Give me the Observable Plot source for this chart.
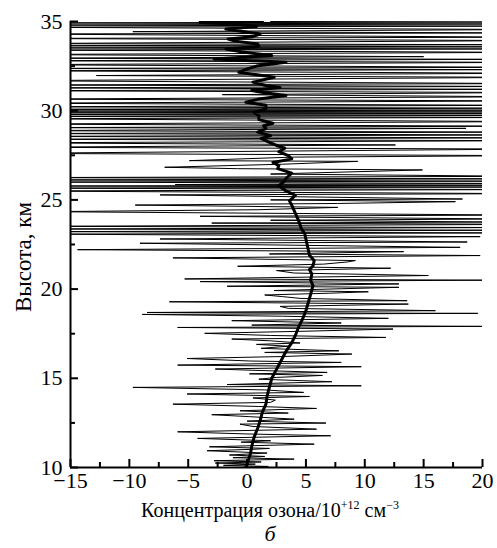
<!DOCTYPE html>
<html>
<head>
<meta charset="utf-8">
<script src="https://cdn.jsdelivr.net/npm/d3@7"></script>
<script src="https://cdn.jsdelivr.net/npm/@observablehq/plot@0.6"></script>
<style>
  html, body { margin: 0; padding: 0; background: #fff; }
  svg text { font-family: "Liberation Serif", "Times New Roman", Tinos, "DejaVu Serif", serif !important; }
</style>
</head>
<body>
<div id="chart"></div>
<script>
// Raw ozone profile: [altitude km, concentration 10^12 cm^-3]
const rawProfile = [
  [10.00,-0.5],[10.06,1.8],[10.12,-2.0],[10.19,0.7],[10.25,-2.7],[10.31,1.2],[10.38,-2.8],[10.47,4.0],
  [10.55,-1.2],[10.62,1.5],[10.70,-1.5],[10.81,1.7],[10.94,-3.4],[11.02,0.5],[11.07,1.9],[11.16,-3.2],
  [11.31,5.7],[11.42,-0.5],[11.50,2.0],[11.63,-4.2],[11.78,7.1],[11.88,0.0],[12.00,-5.9],[12.15,5.9],
  [12.30,0.5],[12.43,-0.6],[12.49,6.7],[12.60,0.0],[12.71,4.0],[12.85,0.2],[12.96,-3.0],[13.05,3.5],
  [13.18,-0.6],[13.31,5.9],[13.42,1.0],[13.55,-6.3],[13.65,2.0],[13.78,2.4],[13.90,0.5],[13.98,5.3],
  [14.12,-5.1],[14.21,4.8],[14.35,1.5],[14.49,-9.7],[14.58,9.7],[14.65,-1.7],[14.81,7.2],[14.95,1.0],
  [15.05,2.5],[15.16,6.4],[15.25,0.2],[15.33,6.8],[15.45,0.5],[15.52,-2.7],[15.65,9.7],[15.74,-5.9],
  [15.89,8.0],[15.97,0.2],[16.11,-5.1],[16.22,3.0],[16.36,8.9],[16.45,1.5],[16.54,7.8],[16.68,1.2],
  [16.80,3.5],[16.90,0.8],[16.98,4.5],[17.10,2.0],[17.20,-1.3],[17.29,11.8],[17.40,2.0],[17.52,-3.6],
  [17.64,5.0],[17.76,12.4],[17.85,-5.9],[17.91,20.5],[17.98,0.4],[18.10,8.0],[18.23,-1.3],[18.36,12.0],
  [18.48,3.0],[18.58,-8.9],[18.64,19.6],[18.69,-8.5],[18.79,16.0],[18.92,3.5],[19.03,2.8],[19.16,13.7],
  [19.22,4.0],[19.29,-6.6],[19.35,13.6],[19.48,4.5],[19.58,3.0],[19.67,1.5],[19.77,7.0],[19.85,10.3],
  [19.92,2.3],[20.02,8.0],[20.10,12.9],[20.16,-1.7],[20.29,12.9],[20.42,-4.0],[20.50,20.5],[20.57,-5.3],
  [20.68,6.0],[20.76,15.4],[20.90,4.0],[21.04,2.5],[21.17,12.2],[21.28,-0.8],[21.40,6.5],[21.52,8.5],
  [21.60,9.2],[21.75,-6.3],[21.88,19.8],[21.97,1.9],[22.10,13.3],[22.21,-14.4],[22.34,18.1],[22.46,4.0],
  [22.57,-9.1],[22.64,18.7],[22.81,-7.4],[22.94,19.8],[23.08,-16.5],[23.15,21],[23.22,-17],[23.30,22],
  [23.37,-17],[23.45,22],[23.52,-18],[23.63,25],[23.70,-3],[23.76,21],[23.86,2.0],[23.93,22],
  [24.08,-4.0],[24.15,23],[24.34,-17],[24.45,1.0],[24.58,7.7],[24.71,-9.5],[24.80,7.7],[24.90,17.7],
  [25.00,2.0],[25.05,18.3],[25.28,-7.4],[25.35,24],[25.50,-20],[25.58,24],[25.66,-20],[25.72,24],
  [25.78,-20],[25.82,24],[25.86,-6.1],[25.92,24],[26.00,-20],[26.05,24],[26.12,-20],[26.18,24],
  [26.25,-20],[26.32,24],[26.45,2.0],[26.68,14.9],[26.75,-0.8],[26.83,-7.0],[27.00,3.0],[27.16,9.4],
  [27.20,-4.9],[27.40,4.0],[27.48,24],[27.61,-20],[27.85,24],[27.95,-20],[28.08,12.6],[28.20,-20],
  [28.32,24],[28.40,-20],[28.48,24],[28.56,-20],[28.64,24],[28.72,-20],[28.80,24],[28.88,-20],
  [29.01,18.6],[29.05,-20],[29.13,24],[29.25,-20],[29.39,24],[29.55,-20],[29.62,24],[29.68,-20],
  [29.73,24],[29.78,-20],[29.83,24],[29.88,-20],[29.93,24],[29.98,-20],[30.03,24],[30.08,-20],
  [30.14,24],[30.22,-20],[30.30,24],[30.42,-20],[30.55,24],[30.65,-20],[30.78,24],[30.90,-2.1],
  [31.02,24],[31.12,-20],[31.20,24],[31.28,-20],[31.36,24],[31.44,-20],[31.52,24],[31.68,-20],
  [31.87,24],[31.97,-12.8],[32.10,24],[32.24,-20],[32.30,24],[32.37,-20],[32.43,24],[32.58,-20],
  [32.71,24],[32.80,-20],[32.88,24],[32.94,-20],[33.03,15.0],[33.15,-20],[33.27,24],[33.40,-20],
  [33.46,24],[33.52,-20],[33.58,24],[33.64,-20],[33.70,24],[33.76,-20],[33.93,24],[34.05,-20],
  [34.12,24],[34.30,-20],[34.36,24],[34.43,-9.7],[34.55,24],[34.68,-20],[34.74,24],[34.80,-20],
  [34.86,24],[34.92,-20],[34.97,24],[35.00,2.0]
];

// Smoothed profile: [altitude km, concentration]
const smoothProfile = [
  [10.0,-0.1],[10.4,0.1],[10.8,0.3],[11.2,0.4],[11.7,0.6],[12.2,0.9],[12.6,1.1],[13.1,1.3],
  [13.55,1.6],[14.0,1.7],[14.5,1.9],[15.0,2.1],[15.5,2.5],[16.0,2.9],[16.5,3.3],[17.0,3.8],
  [17.4,4.1],[17.9,4.4],[18.3,4.7],[18.8,5.0],[19.25,5.2],[19.7,5.4],[20.2,5.6],[20.5,5.4],
  [20.85,5.5],[21.1,5.3],[21.3,5.6],[21.6,5.7],[21.9,5.3],[22.2,5.2],[22.5,5.1],[22.8,5.0],
  [23.1,4.9],[23.4,4.6],[23.8,4.4],[24.1,4.2],[24.4,4.0],[24.7,3.8],[24.95,3.6],[25.25,4.1],
  [25.5,3.3],[25.8,2.7],[26.0,3.1],[26.2,3.3],[26.5,3.8],[26.75,2.6],[26.92,2.7],[27.1,2.2],
  [27.3,3.8],[27.48,3.5],[27.7,2.7],[27.9,3.2],[28.05,2.5],[28.25,1.8],[28.45,1.2],[28.6,2.0],
  [28.8,0.9],[29.0,1.6],[29.16,1.4],[29.3,2.2],[29.5,1.0],[29.72,1.0],[29.9,0.6],[30.1,1.6],
  [30.3,1.6],[30.47,-0.1],[30.65,1.0],[30.85,3.3],[31.0,1.5],[31.13,0.4],[31.3,2.8],[31.41,1.6],
  [31.6,0.5],[31.87,2.3],[32.0,1.0],[32.15,-0.7],[32.34,0.0],[32.5,0.8],[32.71,3.3],[32.9,-2.8],
  [33.09,2.1],[33.3,-0.5],[33.46,-1.8],[33.6,1.0],[33.74,0.9],[33.9,-1.0],[34.02,-1.6],[34.15,0.5],
  [34.3,1.1],[34.45,-0.5],[34.58,-1.8],[34.72,0.8],[34.86,-1.0],[34.95,-4.0],[35.0,1.3]
];

const xMajorTicks = [-15, -10, -5, 0, 5, 10, 15, 20];
const xMinorTicks = [-12.5, -7.5, -2.5, 2.5, 7.5, 12.5, 17.5];
const yMajorTicks = [10, 15, 20, 25, 30, 35];
const yMinorTicks = [12.5, 17.5, 22.5, 27.5, 32.5];

const yLabel = "Высота, км";
const xLabelMain = "Концентрация озона/10";
const xLabelSup1 = "+12";
const xLabelUnit = " см";
const xLabelSup2 = "−3";
const panelLabel = "б";

const FONT = "Liberation Serif, Times New Roman, Tinos, DejaVu Serif, serif";

const chart = Plot.plot({
  width: 497,
  height: 548,
  marginLeft: 70,
  marginRight: 15,
  marginTop: 21,
  marginBottom: 81,
  style: { fontFamily: FONT, fontSize: "22px", background: "#fff", color: "#000" },
  x: { domain: [-15, 20] },
  y: { domain: [10, 35] },
  marks: [
    Plot.line(rawProfile, { x: d => d[1], y: d => d[0], stroke: "#000", strokeWidth: 1, clip: true }),
    Plot.line(smoothProfile, { x: d => d[1], y: d => d[0], stroke: "#000", strokeWidth: 3, clip: true, strokeLinejoin: "round" }),
    Plot.axisX(xMajorTicks, { tickSize: 0, tickPadding: 5, label: null, fontSize: 22 }),
    Plot.axisX(xMajorTicks, { tickSize: -8, tickFormat: () => "", label: null, strokeWidth: 2 }),
    Plot.axisX(xMinorTicks, { tickSize: -5, tickFormat: () => "", label: null, strokeWidth: 2 }),
    Plot.axisY(yMajorTicks, { tickSize: 0, tickPadding: 8, label: null, fontSize: 22 }),
    Plot.axisY(yMajorTicks, { tickSize: -8, tickFormat: () => "", label: null, strokeWidth: 2 }),
    Plot.axisY(yMinorTicks, { tickSize: -5, tickFormat: () => "", label: null, strokeWidth: 2 }),
    Plot.ruleX([-15], { strokeWidth: 2 }),
    Plot.ruleY([10], { strokeWidth: 2 })
  ]
});

document.getElementById("chart").appendChild(chart);

const svg = d3.select(chart);
svg.append("text")
  .attr("transform", "translate(31,257) rotate(-90)")
  .attr("text-anchor", "middle")
  .attr("font-family", FONT)
  .attr("font-size", 23)
  .attr("fill", "#000")
  .text(yLabel);

const xl = svg.append("text")
  .attr("x", 270)
  .attr("y", 517)
  .attr("text-anchor", "middle")
  .attr("font-family", FONT)
  .attr("font-size", 20)
  .attr("fill", "#000");
xl.append("tspan").text(xLabelMain);
xl.append("tspan").attr("dy", -8).attr("font-size", 12).text(xLabelSup1);
xl.append("tspan").attr("dy", 8).text(xLabelUnit);
xl.append("tspan").attr("dy", -8).attr("font-size", 12).text(xLabelSup2);

svg.append("text")
  .attr("x", 270)
  .attr("y", 541)
  .attr("text-anchor", "middle")
  .attr("font-family", FONT)
  .attr("font-style", "italic")
  .attr("font-size", 22)
  .attr("fill", "#000")
  .text(panelLabel);
</script>
</body>
</html>
